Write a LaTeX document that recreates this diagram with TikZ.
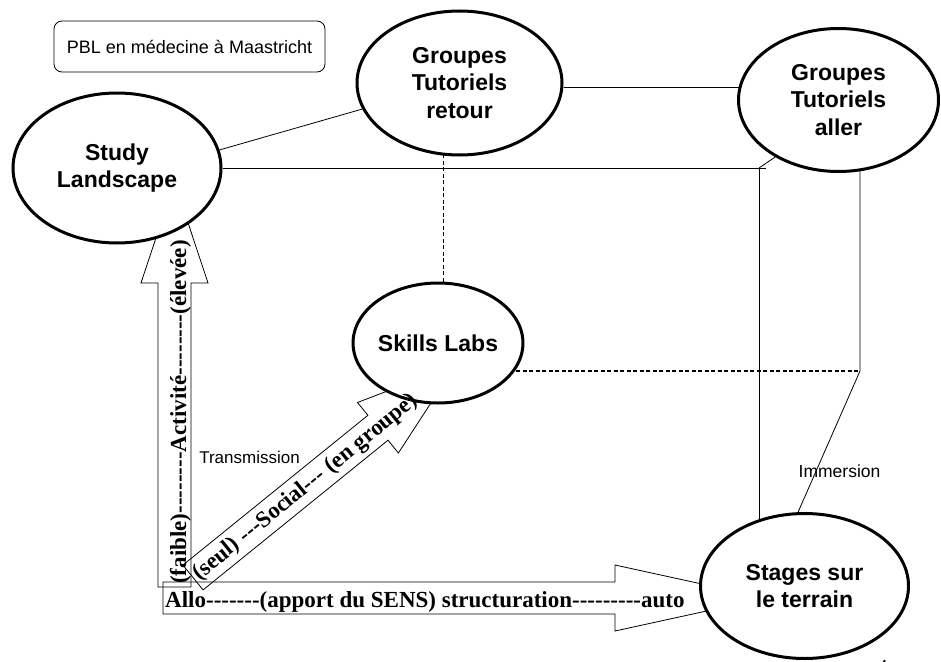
\documentclass[tikz,border=0pt]{standalone}
\usepackage{fontspec}
\newfontfamily\arialf{Liberation Sans}
\newfontfamily\timesf{Liberation Serif}[Ligatures=TeXOff]
\usetikzlibrary{shapes.geometric}
\pgfdeclarelayer{background}
\pgfsetlayers{background,main}

\tikzset{
  place/.style={ellipse, draw, line width=3pt, fill=white, inner sep=0pt, align=center,
    font=\arialf\bfseries\fontsize{23}{27.5}\selectfont},
  titlebox/.style={draw, rounded corners=8pt, line width=0.8pt,
    font=\arialf\fontsize{18}{21}\selectfont},
  link/.style={line width=0.8pt},
  dashlink/.style={line width=1.2pt, dash pattern=on 4pt off 2.5pt},
  blockarrow/.style={draw, line width=0.8pt},
  axislabel/.style={font=\timesf\bfseries\fontsize{23}{27}\selectfont, inner sep=0pt},
  note/.style={font=\arialf\fontsize{17}{20}\selectfont, inner sep=0pt},
}

\begin{document}
\begin{tikzpicture}[x=1pt,y=-1pt]
\useasboundingbox (0,0) rectangle (941,661);

% title
\node[titlebox, minimum width=271pt, minimum height=51pt] (title) at (189.5,46.5) {PBL en médecine à Maastricht};

% places
\node[place, minimum width=208pt, minimum height=150pt] (sl) at (117,168) {Study\\Landscape};
\node[place, minimum width=205pt, minimum height=144pt] (gtr) at (459.5,83) {Groupes\\Tutoriels\\retour};
\node[place, minimum width=200pt, minimum height=143pt] (gta) at (838.5,100) {Groupes\\Tutoriels\\aller};
\node[place, minimum width=152pt, minimum height=120pt] (sk) at (438,343) {Skills Labs};
\node[place, minimum width=208pt, minimum height=145pt] (st) at (804.5,586) {Stages sur\\le terrain};

% bend points of the frame
\coordinate (c1) at (759,168);
\coordinate (cx) at (766,168);
\coordinate (c2) at (860,371);

\begin{pgfonlayer}{background}
  % plain links
  \draw[link] (sl.10) -- (gtr.195);
  \draw[link] (sl.east) -- (cx);
  \draw[link] (c1) -- (gta.222);
  \draw[link] (c1) -- (c1 |- st.center);
  \draw[link] ([yshift=-4pt]gtr.east) -- ([yshift=-4pt]gtr.east -| gta.center);
  \draw[link] (c2 |- gta.center) -- (c2) -- (st.95);
  % dashed links
  \draw[dashlink] (sk.85) -- (sk.85 |- gtr.center);
  \draw[dashlink] (sk.center |- c2) -- (c2);
  % block arrows: activity (up), social (diagonal), structuration (right)
  \draw[blockarrow] (158,587) -- (191,587) -- (191,283) -- (208,283) -- (174.5,182)
    -- (141,283) -- (158,283) -- cycle;
  \draw[blockarrow] (182.9,565.1) -- (367.9,415.3) -- (357.5,402.5) -- (455.7,364.8)
    -- (398.4,453.0) -- (388.0,440.2) -- (203.1,589.9) -- cycle;
  \draw[blockarrow] (163,582) -- (615,582) -- (615,565) -- (766,598) -- (615,631)
    -- (615,614) -- (163,614) -- cycle;
\end{pgfonlayer}

% arrow captions
\node[axislabel, rotate=90, anchor=base west] (act) at (186,584) {(faible)--------Activité--------(élevée)};
\node[axislabel, rotate=39, anchor=base west] (soc) at (199,581) {(seul) ---Social--- (en groupe)};
\node[axislabel, anchor=base west] (struct) at (165,607) {Allo-------(apport du SENS) structuration---------auto};

% link labels
\node[note] (trans) at (249.5,457) {Transmission};
\node[note, font=\arialf\fontsize{17.5}{20}\selectfont] (imm) at (839.5,471) {Immersion};
\node[note, font=\arialf\fontsize{16}{19}\selectfont] (pg) at (883,666) {4};
\end{tikzpicture}
\end{document}
